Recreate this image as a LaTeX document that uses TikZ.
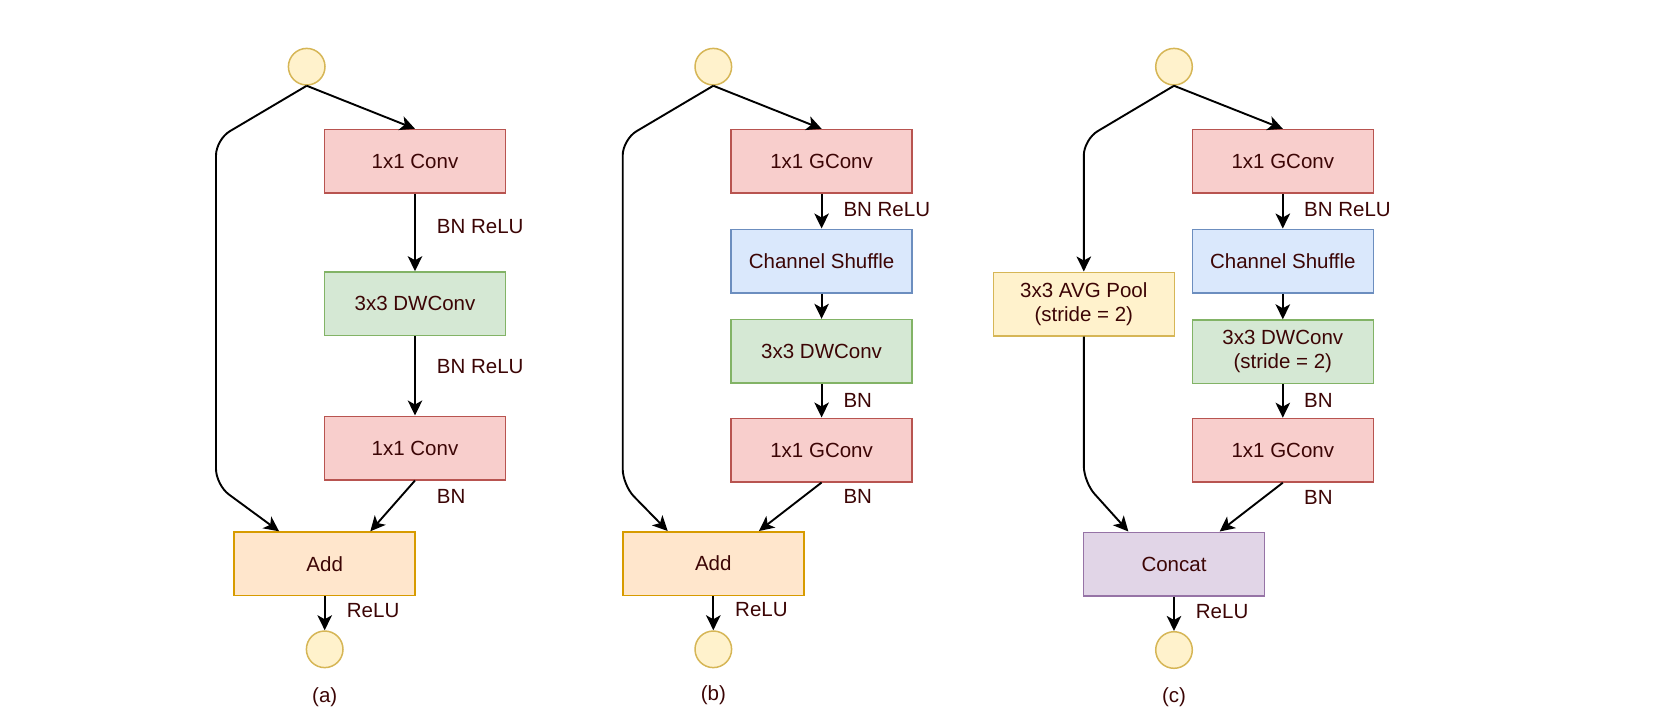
\documentclass[tikz,border=0pt]{standalone}
\usepackage{fontspec}
\setmainfont{Liberation Sans}
\usetikzlibrary{arrows.meta,calc}
\definecolor{redF}{HTML}{F8CECC}\definecolor{redD}{HTML}{B85450}
\definecolor{grnF}{HTML}{D5E8D4}\definecolor{grnD}{HTML}{82B366}
\definecolor{bluF}{HTML}{DAE8FC}\definecolor{bluD}{HTML}{6C8EBF}
\definecolor{orgF}{HTML}{FFE6CC}\definecolor{orgD}{HTML}{D79B00}
\definecolor{yelF}{HTML}{FFF2CC}\definecolor{yelD}{HTML}{D6B656}
\definecolor{purF}{HTML}{E1D5E7}\definecolor{purD}{HTML}{9673A6}
\definecolor{txt}{RGB}{60,5,5}
\begin{document}
\begin{tikzpicture}[x=1pt,y=-1pt,
  txtfont/.style={font=\fontsize{20.5}{24}\selectfont, text=txt},
  box/.style={draw, line width=1.5pt, minimum width=181pt, minimum height=63.5pt, inner sep=0pt, align=center, txtfont},
  redbox/.style={box, fill=redF, draw=redD},
  grnbox/.style={box, fill=grnF, draw=grnD},
  blubox/.style={box, fill=bluF, draw=bluD},
  orgbox/.style={box, fill=orgF, draw=orgD},
  yelbox/.style={box, fill=yelF, draw=yelD},
  purbox/.style={box, fill=purF, draw=purD},
  circ/.style={circle, draw=yelD, fill=yelF, line width=1.5pt, minimum size=36.6pt, inner sep=0pt},
  conn/.style={line width=1.9pt, -{Stealth[length=15pt,width=14.5pt,inset=4pt]}},
  lbl/.style={anchor=west, inner sep=0pt, txtfont},
  captxt/.style={inner sep=0pt, txtfont}]
\useasboundingbox (0,0) rectangle (1678,726);

% ---------- panel (a)
\node[circ] (ina) at (306.7,66.7) {};
\node[redbox] (c1a) at (415,161.3) {1x1 Conv};
\node[grnbox] (dwa) at (415,303.7) {3x3 DWConv};
\node[redbox] (c2a) at (415,448) {1x1 Conv};
\node[orgbox] (adda) at (324.7,563.8) {Add};
\node[circ] (outa) at (324.7,649.3) {};
\node[captxt] (capa) at (324.7,697) {(a)};
\draw[conn] (ina.south) -- (c1a.north);
\draw[conn, rounded corners=16pt] (ina.south) -- (216,139.4) -- (216,485) -- ($(adda.north)!0.5!(adda.north west)$);
\draw[conn] (c1a) -- (dwa);
\draw[conn] (dwa) -- (c2a);
\draw[conn] (c2a.south) -- ($(adda.north)!0.5!(adda.north east)$);
\draw[conn] (adda) -- (outa);
\node[lbl] (la1) at (436.7,227) {BN ReLU};
\node[lbl] (la2) at (436.7,366.5) {BN ReLU};
\node[lbl] (la3) at (436.7,496.7) {BN};
\node[lbl] (la4) at (346.7,610.7) {ReLU};

% ---------- panel (b)
\node[circ] (inb) at (713.3,66.7) {};
\node[redbox] (g1b) at (821.6,161.3) {1x1 GConv};
\node[blubox] (shb) at (821.6,261) {Channel Shuffle};
\node[grnbox] (dwb) at (821.6,351.3) {3x3 DWConv};
\node[redbox] (g2b) at (821.6,450) {1x1 GConv};
\node[orgbox] (addb) at (713.3,563.5) {Add};
\node[circ] (outb) at (713.3,649.3) {};
\node[captxt] (capb) at (713.3,695) {(b)};
\draw[conn] (inb.south) -- (g1b.north);
\draw[conn, rounded corners=16pt] (inb.south) -- (622.7,139.4) -- (622.7,485) -- ($(addb.north)!0.5!(addb.north west)$);
\draw[conn] (g1b) -- (shb);
\draw[conn] (shb) -- (dwb);
\draw[conn] (dwb) -- (g2b);
\draw[conn] (g2b.south) -- ($(addb.north)!0.5!(addb.north east)$);
\draw[conn] (addb) -- (outb);
\node[lbl] (lb1) at (843.3,210) {BN ReLU};
\node[lbl] (lb2) at (843.3,400) {BN};
\node[lbl] (lb3) at (843.3,496.7) {BN};
\node[lbl] (lb4) at (735,610) {ReLU};

% ---------- panel (c)
\node[circ] (inc) at (1174,66.7) {};
\node[redbox] (g1c) at (1282.8,161.3) {1x1 GConv};
\node[blubox] (shc) at (1282.8,261) {Channel Shuffle};
\node[grnbox] (dwc) at (1282.8,351.8) {3x3 DWConv\\(stride = 2)};
\node[redbox] (g2c) at (1282.8,450.2) {1x1 GConv};
\node[yelbox] (poolc) at (1083.8,304) {3x3 AVG Pool\\(stride = 2)};
\node[purbox] (catc) at (1174,564) {Concat};
\node[circ] (outc) at (1174,650) {};
\node[captxt] (capc) at (1174,696.7) {(c)};
\draw[conn] (inc.south) -- (g1c.north);
\draw[conn, rounded corners=16pt] (inc.south) -- (1083.8,139.4) -- (poolc.north);
\draw[conn, rounded corners=16pt] (poolc.south) -- (1083.8,482) -- ($(catc.north)!0.5!(catc.north west)$);
\draw[conn] (g1c) -- (shc);
\draw[conn] (shc) -- (dwc);
\draw[conn] (dwc) -- (g2c);
\draw[conn] (g2c.south) -- ($(catc.north)!0.5!(catc.north east)$);
\draw[conn] (catc) -- (outc);
\node[lbl] (lc1) at (1304,210) {BN ReLU};
\node[lbl] (lc2) at (1304,400) {BN};
\node[lbl] (lc3) at (1304,497.3) {BN};
\node[lbl] (lc4) at (1195.7,611.7) {ReLU};
\end{tikzpicture}
\end{document}
